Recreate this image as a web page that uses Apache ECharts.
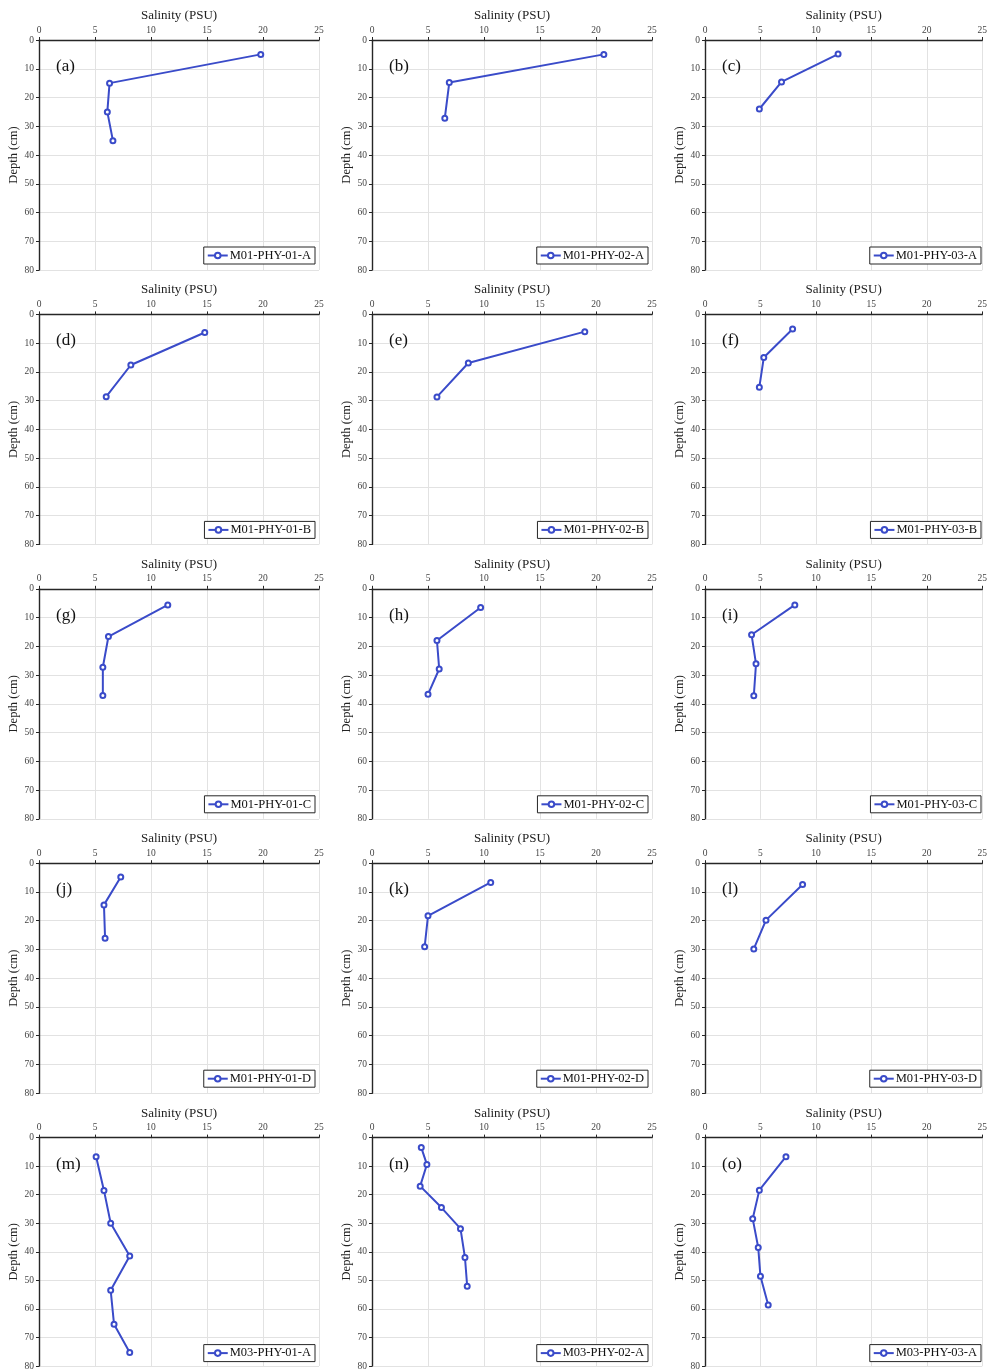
<!DOCTYPE html>
<html>
<head>
<meta charset="utf-8">
<script src="https://cdn.jsdelivr.net/npm/echarts@6/dist/echarts.min.js"></script>
<style>
  html, body { margin: 0; padding: 0; background: #fff; }
  #main { width: 990px; height: 1371px; }
</style>
</head>
<body>
<div id="main"></div>
<script>
// 每个子图的样品编号和序号
const sampleIds = [
  'M01-PHY-01-A', 'M01-PHY-02-A', 'M01-PHY-03-A',
  'M01-PHY-01-B', 'M01-PHY-02-B', 'M01-PHY-03-B',
  'M01-PHY-01-C', 'M01-PHY-02-C', 'M01-PHY-03-C',
  'M01-PHY-01-D', 'M01-PHY-02-D', 'M01-PHY-03-D',
  'M03-PHY-01-A', 'M03-PHY-02-A', 'M03-PHY-03-A'
]
const panelLabels = ['(a)', '(b)', '(c)', '(d)', '(e)', '(f)', '(g)', '(h)', '(i)', '(j)', '(k)', '(l)', '(m)', '(n)', '(o)']

// 盐度 (PSU) 与深度 (cm)
const salA = [19.8, 6.3, 6.1, 6.6];  const depA = [5.0, 15.0, 25.0, 35.0]
const salB = [20.7, 6.9, 6.5];       const depB = [5.0, 14.8, 27.2]
const salC = [12.0, 6.9, 4.9];       const depC = [4.9, 14.6, 24.0]
const salD = [14.8, 8.2, 6.0];       const depD = [6.3, 17.6, 28.6]
const salE = [19.0, 8.6, 5.8];       const depE = [6.0, 16.9, 28.7]
const salF = [7.9, 5.3, 4.9];        const depF = [5.1, 15.0, 25.3]
const salG = [11.5, 6.2, 5.7, 5.7];  const depG = [5.6, 16.6, 27.3, 37.1]
const salH = [9.7, 5.8, 6.0, 5.0];   const depH = [6.5, 18.0, 27.9, 36.7]
const salI = [8.1, 4.2, 4.6, 4.4];   const depI = [5.6, 16.0, 26.1, 37.2]
const salJ = [7.3, 5.8, 5.9];        const depJ = [4.8, 14.5, 26.1]
const salK = [10.6, 5.0, 4.7];       const depK = [6.7, 18.3, 29.1]
const salL = [8.8, 5.5, 4.4];        const depL = [7.4, 19.8, 29.8]
const salM = [5.1, 5.8, 6.4, 8.1, 6.4, 6.7, 8.1]; const depM = [6.7, 18.5, 30.0, 41.5, 53.5, 65.4, 75.3]
const salN = [4.4, 4.9, 4.3, 6.2, 7.9, 8.3, 8.5]; const depN = [3.5, 9.4, 17.0, 24.5, 31.9, 42.0, 52.1]
const salO = [7.3, 4.9, 4.3, 4.8, 5.0, 5.7];      const depO = [6.7, 18.4, 28.4, 38.5, 48.6, 58.6]

const salinity = [salA, salB, salC, salD, salE, salF, salG, salH, salI, salJ, salK, salL, salM, salN, salO]
const depth = [depA, depB, depC, depD, depE, depF, depG, depH, depI, depJ, depK, depL, depM, depN, depO]

// 坐标轴范围
const xMin = 0, xMax = 25, xStep = 5
const yMin = 0, yMax = 80, yStep = 10

const font = "'Liberation Serif', 'DejaVu Serif', serif"
const lineColor = '#3a4bc9'
const axisColor = '#262626'
const gridColor = '#e2e2e2'

const colLeft = [39, 372, 705]
const plotW = 280, plotH = 230
const rowTop = r => 40 + r * 274.4

const grid = [], xAxis = [], yAxis = [], series = [], legend = [], title = []

sampleIds.forEach((id, i) => {
  const r = Math.floor(i / 3), c = i % 3
  const left = colLeft[c], top = rowTop(r)
  grid.push({ left: left, top: top, width: plotW, height: plotH })
  xAxis.push({
    gridIndex: i, type: 'value', position: 'top',
    min: xMin, max: xMax, interval: xStep,
    name: 'Salinity (PSU)', nameLocation: 'middle', nameGap: 18,
    nameTextStyle: { fontFamily: font, fontSize: 13, color: '#222' },
    axisLine: { show: true, onZero: false, lineStyle: { color: axisColor, width: 1.4 } },
    axisTick: { show: true, length: 3, lineStyle: { color: axisColor } },
    axisLabel: { fontFamily: font, fontSize: 9.5, color: '#444', margin: 5 },
    splitLine: { show: true, lineStyle: { color: gridColor, width: 1 } }
  })
  yAxis.push({
    gridIndex: i, type: 'value', inverse: true,
    min: yMin, max: yMax, interval: yStep,
    name: 'Depth (cm)', nameLocation: 'middle', nameGap: 18, nameRotate: 90,
    nameTextStyle: { fontFamily: font, fontSize: 12.5, color: '#222' },
    axisLine: { show: true, onZero: false, lineStyle: { color: axisColor, width: 1.4 } },
    axisTick: { show: true, length: 3, lineStyle: { color: axisColor } },
    axisLabel: { fontFamily: font, fontSize: 9.5, color: '#444', margin: 5 },
    splitLine: { show: true, lineStyle: { color: gridColor, width: 1 } }
  })
  series.push({
    name: id, type: 'line', xAxisIndex: i, yAxisIndex: i,
    data: salinity[i].map((s, k) => [s, depth[i][k]]),
    symbol: 'emptyCircle', symbolSize: 5,
    lineStyle: { color: lineColor, width: 2 },
    itemStyle: { color: lineColor, borderWidth: 1.6 },
    animation: false
  })
  legend.push({
    data: [id], right: 990 - (left + plotW) + 4, top: top + 207,
    orient: 'horizontal', padding: [2, 4, 2, 3], itemWidth: 20, itemHeight: 7,
    borderColor: axisColor, borderWidth: 1, borderRadius: 0, backgroundColor: '#fff',
    textStyle: { fontFamily: font, fontSize: 12.5, color: '#111', padding: [0, 0, 0, -3] },
    selectedMode: false
  })
  title.push({
    text: panelLabels[i], left: left + 12, top: top + 13,
    textStyle: { fontFamily: font, fontSize: 17, fontWeight: 'normal', color: '#111' }
  })
})

const myChart = echarts.init(document.getElementById('main'), null, { renderer: 'canvas' })
const option = { animation: false, title, grid, xAxis, yAxis, legend, series }
option && myChart.setOption(option)
window.addEventListener('resize', () => {
  myChart.resize()
})
</script>
</body>
</html>
